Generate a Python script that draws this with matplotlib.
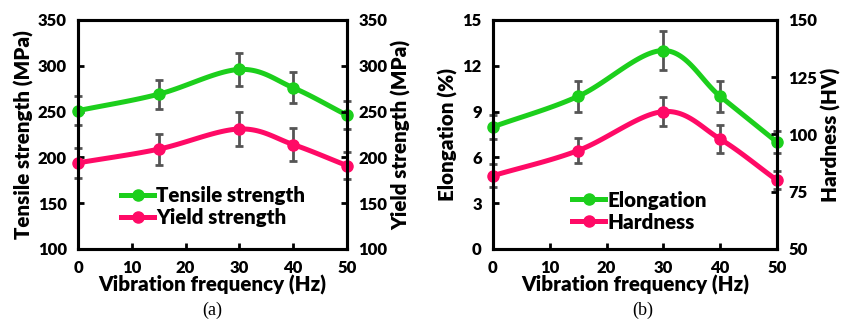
import numpy as np
import matplotlib
matplotlib.use("Agg")
import matplotlib.pyplot as plt

freq = [0, 15, 30, 40, 50]
tensile = [251, 269, 296, 276, 246]
tensile_err = [16, 16, 18, 17, 15]
yield_s = [194, 209, 231, 214, 191]
yield_err = [16, 17, 19, 18, 15]
elong = [8.0, 10.0, 13.0, 10.0, 7.0]
elong_err = [0.8, 1.0, 1.3, 1.0, 0.7]
hard = [82, 93, 110, 98, 80]
hard_err = [5, 5.5, 6.5, 6, 4]

GREEN = "#1ccf1c"
PINK = "#ff0a66"
ERR = "#555555"

plt.rcParams['font.family'] = ['Lato', 'DejaVu Sans']
W = 'heavy'
plt.rcParams['font.weight'] = W
plt.rcParams['axes.labelweight'] = W


def smooth(x, y, n=30):
    pts = np.column_stack([x, y]).astype(float)
    P = np.vstack([2 * pts[0] - pts[1], pts, 2 * pts[-1] - pts[-2]])
    out = []
    for i in range(1, len(P) - 2):
        p0, p1, p2, p3 = P[i - 1], P[i], P[i + 1], P[i + 2]
        t = np.linspace(0, 1, n)[:, None]
        seg = 0.5 * ((2 * p1) + (-p0 + p2) * t + (2 * p0 - 5 * p1 + 4 * p2 - p3) * t ** 2
                     + (-p0 + 3 * p1 - 3 * p2 + p3) * t ** 3)
        out.append(seg if i == 1 else seg[1:])
    s = np.vstack(out)
    return s[:, 0], s[:, 1]


def series(ax, x, y, err, color, label):
    sx, sy = smooth(x, y)
    ax.plot(sx, sy, color=color, lw=3.6, zorder=3, solid_capstyle='round')
    ax.errorbar(x, y, yerr=err, fmt='none', ecolor=ERR, elinewidth=2, capsize=3,
                capthick=2, zorder=4, clip_on=False)
    ax.plot(x, y, 'o', color=color, ms=8, zorder=5, clip_on=False)
    return ax.plot([], [], '-o', color=color, lw=3.6, ms=8, label=label)[0]


def style(ax):
    for s in ax.spines.values():
        s.set_linewidth(2.2)
        s.set_zorder(6)
    ax.tick_params(direction='in', length=4, width=2, labelsize=12, pad=8)
    for lab in ax.get_xticklabels() + ax.get_yticklabels():
        lab.set_fontweight(W)


LS = 14.8
fig = plt.figure(figsize=(8.46, 3.30), dpi=100)

# Panel (a)
axa = fig.add_axes([0.0922, 0.2455, 0.318, 0.694])
axa2 = axa.twinx()
h1 = series(axa, freq, tensile, tensile_err, GREEN, 'Tensile strength')
h2 = series(axa2, freq, yield_s, yield_err, PINK, 'Yield strength')
for a in (axa, axa2):
    a.set_ylim(100, 350)
    a.set_yticks([100, 150, 200, 250, 300, 350])
    a.set_xlim(0, 50)
axa.set_xticks([0, 10, 20, 30, 40, 50])
for a in (axa, axa2):
    style(a)
axa.set_xlabel('Vibration frequency (Hz)', fontsize=LS, fontweight=W, labelpad=-1)
axa.set_ylabel('Tensile strength (MPa)', fontsize=LS, fontweight=W, labelpad=3)
axa2.set_ylabel('Yield strength (MPa)', fontsize=LS, fontweight=W, labelpad=3)
leg = axa2.legend([h1, h2], ['Tensile strength', 'Yield strength'], loc='lower left',
                  bbox_to_anchor=(0.13, 0.06), frameon=False, fontsize=LS,
                  handlelength=1.6, handletextpad=0.1, labelspacing=0.15, borderaxespad=0)
for t in leg.get_texts():
    t.set_fontweight(W)
fig.text(0.251, 0.06, '(a)', family='Liberation Serif', fontweight='normal',
         fontsize=13, ha='center', va='center')

# Panel (b)
axb = fig.add_axes([0.5827, 0.2455, 0.3357, 0.694])
axb2 = axb.twinx()
h3 = series(axb, freq, elong, elong_err, GREEN, 'Elongation')
h4 = series(axb2, freq, hard, hard_err, PINK, 'Hardness')
axb.set_ylim(0, 15)
axb.set_yticks([0, 3, 6, 9, 12, 15])
axb2.set_ylim(50, 150)
axb2.set_yticks([50, 75, 100, 125, 150])
for a in (axb, axb2):
    a.set_xlim(0, 50)
axb.set_xticks([0, 10, 20, 30, 40, 50])
for a in (axb, axb2):
    style(a)
axb.set_xlabel('Vibration frequency (Hz)', fontsize=LS, fontweight=W, labelpad=-1)
axb.set_ylabel('Elongation (%)', fontsize=LS, fontweight=W, labelpad=3)
axb2.set_ylabel('Hardness (HV)', fontsize=LS, fontweight=W, labelpad=3)
leg = axb2.legend([h3, h4], ['Elongation', 'Hardness'], loc='lower left',
                  bbox_to_anchor=(0.25, 0.04), frameon=False, fontsize=LS,
                  handlelength=1.6, handletextpad=0.1, labelspacing=0.15, borderaxespad=0)
for t in leg.get_texts():
    t.set_fontweight(W)
fig.text(0.76, 0.06, '(b)', family='Liberation Serif', fontweight='normal',
         fontsize=13, ha='center', va='center')

fig.savefig('out.png', dpi=100)
